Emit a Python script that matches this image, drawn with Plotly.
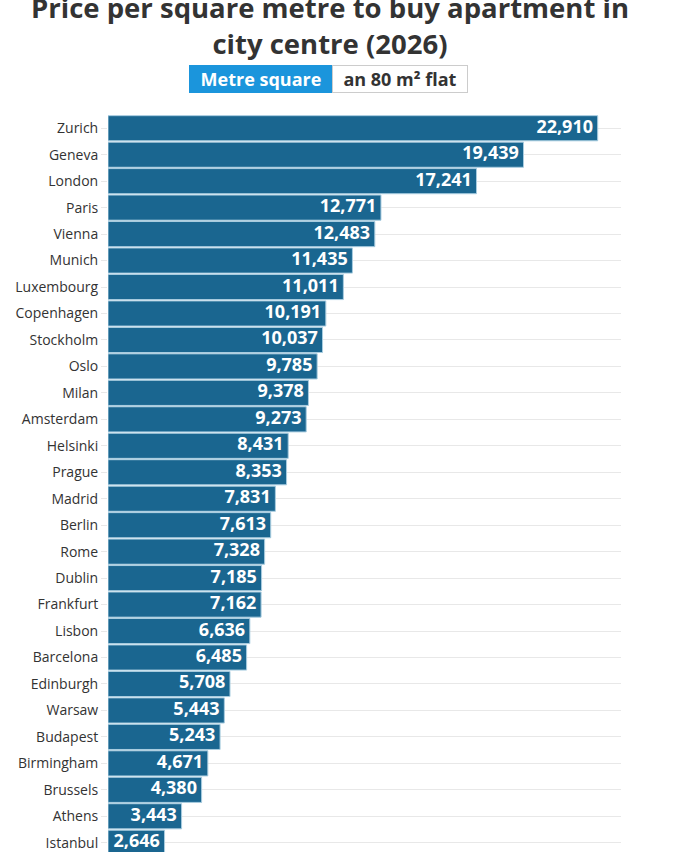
import plotly.graph_objects as go

cities = ["Zurich", "Geneva", "London", "Paris", "Vienna", "Munich", "Luxembourg",
          "Copenhagen", "Stockholm", "Oslo", "Milan", "Amsterdam", "Helsinki", "Prague",
          "Madrid", "Berlin", "Rome", "Dublin", "Frankfurt", "Lisbon", "Barcelona",
          "Edinburgh", "Warsaw", "Budapest", "Birmingham", "Brussels", "Athens", "Istanbul"]
price_m2 = [22910, 19439, 17241, 12771, 12483, 11435, 11011, 10191, 10037, 9785, 9378,
            9273, 8431, 8353, 7831, 7613, 7328, 7185, 7162, 6636, 6485, 5708, 5443,
            5243, 4671, 4380, 3443, 2646]

FONT = "Open Sans"
BAR = "#1a6690"

fig = go.Figure()
fig.add_trace(go.Bar(
    x=price_m2, y=cities, orientation="h",
    marker=dict(color=BAR, line=dict(color="#a9cde0", width=1)),
    showlegend=False, hoverinfo="x+y",
))
# value labels at the bar ends (a text trace so they keep full size);
# trailing nbsp gives the small gap before the bar end
fig.add_trace(go.Scatter(
    x=price_m2, y=cities, mode="text",
    text=[f"{v:,}\u00a0" for v in price_m2], textposition="middle left",
    textfont=dict(family=FONT, size=18, color="white", weight="bold"),
    cliponaxis=False, showlegend=False, hoverinfo="skip",
))

# title (top of first line is cut off in the reference)
fig.add_annotation(
    text="Price per square metre to buy apartment in<br>city centre (2026)",
    xref="paper", yref="paper", x=0.4327, y=1.121, xanchor="center", yanchor="middle",
    showarrow=False, font=dict(family=FONT, size=27.5, color="#333333", weight="bold"),
)

# toggle buttons (static look)
fig.add_annotation(
    text="Metre square", xref="paper", yref="paper", x=0.2982, y=1.049,
    xanchor="center", yanchor="middle", showarrow=False, width=140, height=24,
    bgcolor="#1b95dc", bordercolor="#1b95dc", borderwidth=1,
    font=dict(family=FONT, size=18, color="white", weight="bold"),
)
fig.add_annotation(
    text="an 80 m² flat", xref="paper", yref="paper", x=0.5692, y=1.049,
    xanchor="center", yanchor="middle", showarrow=False, width=132, height=24,
    bgcolor="white", bordercolor="#cccccc", borderwidth=1,
    font=dict(family=FONT, size=18, color="#333333", weight="bold"),
)

fig.update_layout(
    width=675, height=870,
    margin=dict(l=108, r=54, t=115, b=14),
    plot_bgcolor="white", paper_bgcolor="white",
    bargap=0.05,
    font=dict(family=FONT, color="#333333"),
    xaxis=dict(range=[0, 24000], showgrid=False, showticklabels=False,
               zeroline=False, showline=False, fixedrange=True),
    yaxis=dict(range=[len(cities) - 0.5, -0.5], showgrid=True, gridcolor="#e8e8e8",
               gridwidth=1, ticks="outside", ticklen=6, tickcolor="#e8e8e8",
               tickfont=dict(family=FONT, size=14, color="#333333"),
               showline=False, zeroline=False, fixedrange=True),
)

fig.write_html("out.html", config={"displayModeBar": False},
               post_script="document.body.style.margin='0';document.body.style.overflow='hidden';")
